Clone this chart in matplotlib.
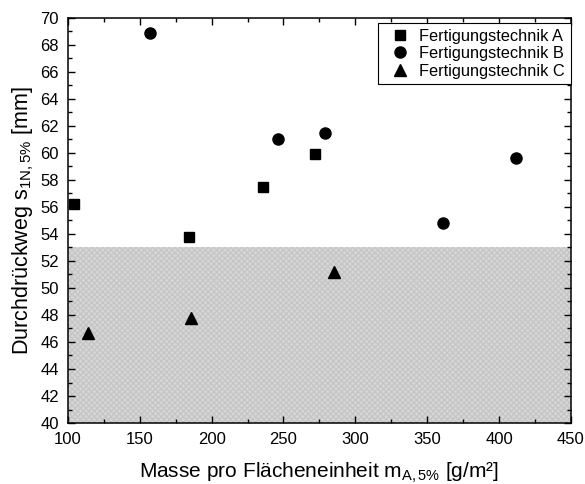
import matplotlib
matplotlib.use("Agg")
import matplotlib.pyplot as plt
from matplotlib.ticker import MultipleLocator

plt.rcParams['font.family'] = ['Liberation Sans', 'DejaVu Sans']
plt.rcParams['mathtext.fontset'] = 'custom'
plt.rcParams['mathtext.rm'] = 'Liberation Sans'
plt.rcParams['mathtext.it'] = 'Liberation Sans'
plt.rcParams['mathtext.default'] = 'regular'
plt.rcParams['hatch.linewidth'] = 0.8

# Data
a_x = [104, 184, 236, 272]
a_y = [56.2, 53.8, 57.5, 59.9]
b_x = [157, 246, 279, 361, 412]
b_y = [68.9, 61.0, 61.5, 54.8, 59.6]
c_x = [114, 186, 285]
c_y = [46.7, 47.8, 51.2]
labels = ["Fertigungstechnik A", "Fertigungstechnik B", "Fertigungstechnik C"]
limit_y = 53.0

fig = plt.figure(figsize=(5.85, 4.84), dpi=100)
ax = fig.add_axes([0.116, 0.126, 0.86, 0.837])

ax.axhspan(40, limit_y, facecolor='#d6d6d6', edgecolor='#c4c4c4', hatch='xxxxxx', linewidth=0, zorder=0)

ax.plot(a_x, a_y, 's', color='black', markersize=6.5, linestyle='none', label=labels[0], zorder=3)
ax.plot(b_x, b_y, 'o', color='black', markersize=8, linestyle='none', label=labels[1], zorder=3)
ax.plot(c_x, c_y, '^', color='black', markersize=8.5, linestyle='none', label=labels[2], zorder=3)

ax.set_xlim(100, 450)
ax.set_ylim(40, 70)
ax.xaxis.set_major_locator(MultipleLocator(50))
ax.xaxis.set_minor_locator(MultipleLocator(25))
ax.yaxis.set_major_locator(MultipleLocator(2))
ax.yaxis.set_minor_locator(MultipleLocator(1))
ax.tick_params(which='both', direction='in', top=True, right=True, labelsize=12, width=1, pad=6.5)
ax.tick_params(which='major', length=5)
ax.tick_params(which='minor', length=3)
for s in ax.spines.values():
    s.set_linewidth(1.1)

ax.set_xlabel("Masse pro Flächeneinheit m$_{A,5\\%}$ [g/m²]", fontsize=15, labelpad=10)
ax.set_ylabel("Durchdrückweg s$_{1N,5\\%}$ [mm]", fontsize=15.5, labelpad=3)

leg = ax.legend(loc='upper right', bbox_to_anchor=(1.0, 1 - 5 / 405), fontsize=11.8,
                frameon=True, fancybox=False, edgecolor='black', borderaxespad=0,
                handlelength=2.0, handletextpad=0.2, labelspacing=0.15, borderpad=0.35,
                framealpha=1)
leg.get_frame().set_linewidth(0.8)

fig.savefig("out.png", dpi=100)
